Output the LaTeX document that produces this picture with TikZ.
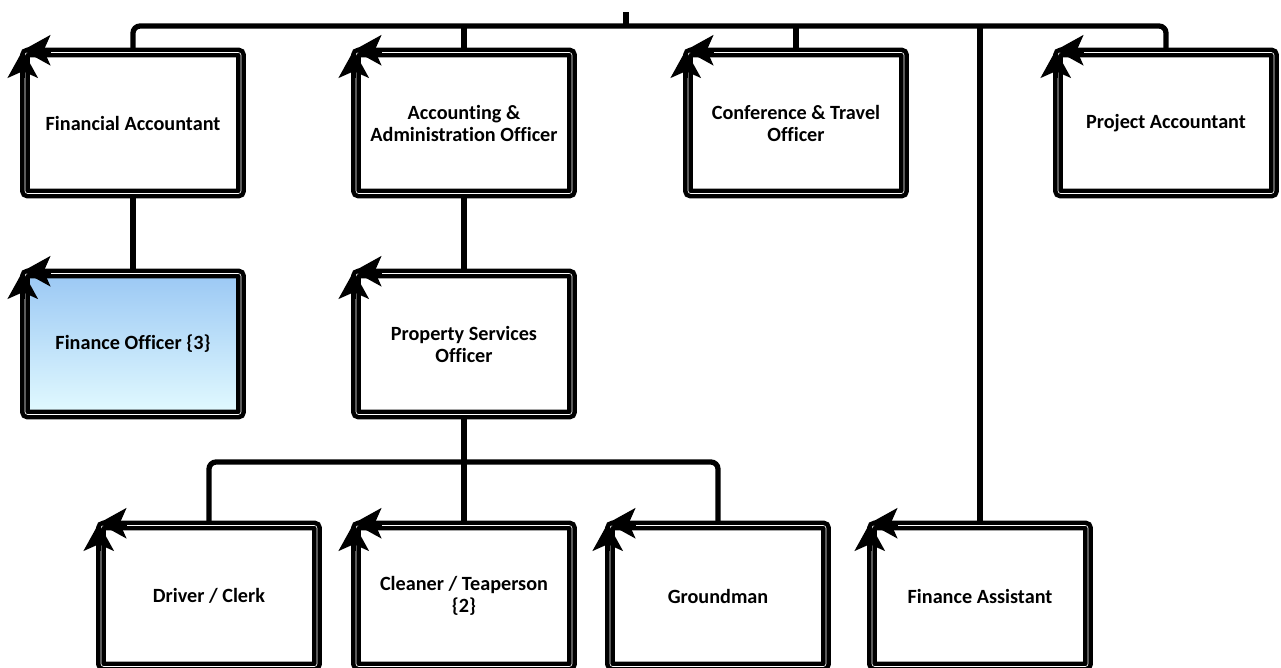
\documentclass[tikz,border=0pt]{standalone}
\usepackage{fontspec}
\setmainfont{Carlito}[Ligatures=NoCommon]
\usepackage{tikz}
\usetikzlibrary{arrows.meta}
\definecolor{officetop}{RGB}{155,200,244}
\definecolor{officebottom}{RGB}{226,250,255}

\begin{document}
\begin{tikzpicture}[x=0.02cm, y=-0.02cm,
  post/.style={draw, line width=2.6pt, double=white, double distance=0.35pt,
    rounded corners=1.5pt, minimum width=4.32cm, minimum height=2.82cm,
    align=center, font=\fontsize{11.5}{12.5}\selectfont\bfseries},
  link/.style={line width=3pt, rounded corners=4pt},
  tip/.style={line width=2.6pt, -{Stealth[length=0.55cm, width=0.6cm, inset=0.13cm]}}]
\useasboundingbox (0,0) rectangle (1281,667);
% first level
\node[post] (fa)  at (133,123) {Financial Accountant};
\node[post] (aao) at (464,123) {Accounting \&\\Administration Officer};
\node[post] (cto) at (796,123) {Conference \& Travel\\Officer};
\node[post] (pa)  at (1166,123) {Project Accountant};
% second level
\node[post, top color=officetop, bottom color=officebottom] (fo) at (133,344) {Finance Officer \{3\}};
\node[post] (pso) at (464,344) {Property Services\\Officer};
% third level
\node[post] (dc)  at (209,596) {Driver / Clerk};
\node[post] (ct)  at (464,596) {Cleaner / Teaperson\\\{2\}};
\node[post] (gm)  at (718,596) {Groundman};
\node[post] (fas) at (980,596) {Finance Assistant};
% corner marks
\foreach \n in {fa,aao,cto,pa,fo,pso,dc,ct,gm,fas} {
  \draw[tip] ([shift={(28,0)}]\n.north west) -- (\n.north west);
  \draw[tip] ([shift={(0,28)}]\n.north west) -- (\n.north west);
}
% connectors
\coordinate (head) at (626,12);
\coordinate (bus) at (626,26);
\coordinate (bus2) at (464,462);
\draw[link] (head) -- (bus);
\draw[link] (fa.north) |- (bus) -| (pa.north);
\draw[link] (aao.north) -- (aao.north |- bus);
\draw[link] (cto.north) -- (cto.north |- bus);
\draw[link] (fas.north) -- (fas.north |- bus);
\draw[link] (fa.south) -- (fo.north);
\draw[link] (aao.south) -- (pso.north);
\draw[link] (pso.south) -- (ct.north);
\draw[link] (dc.north) |- (bus2) -| (gm.north);
\end{tikzpicture}
\end{document}
